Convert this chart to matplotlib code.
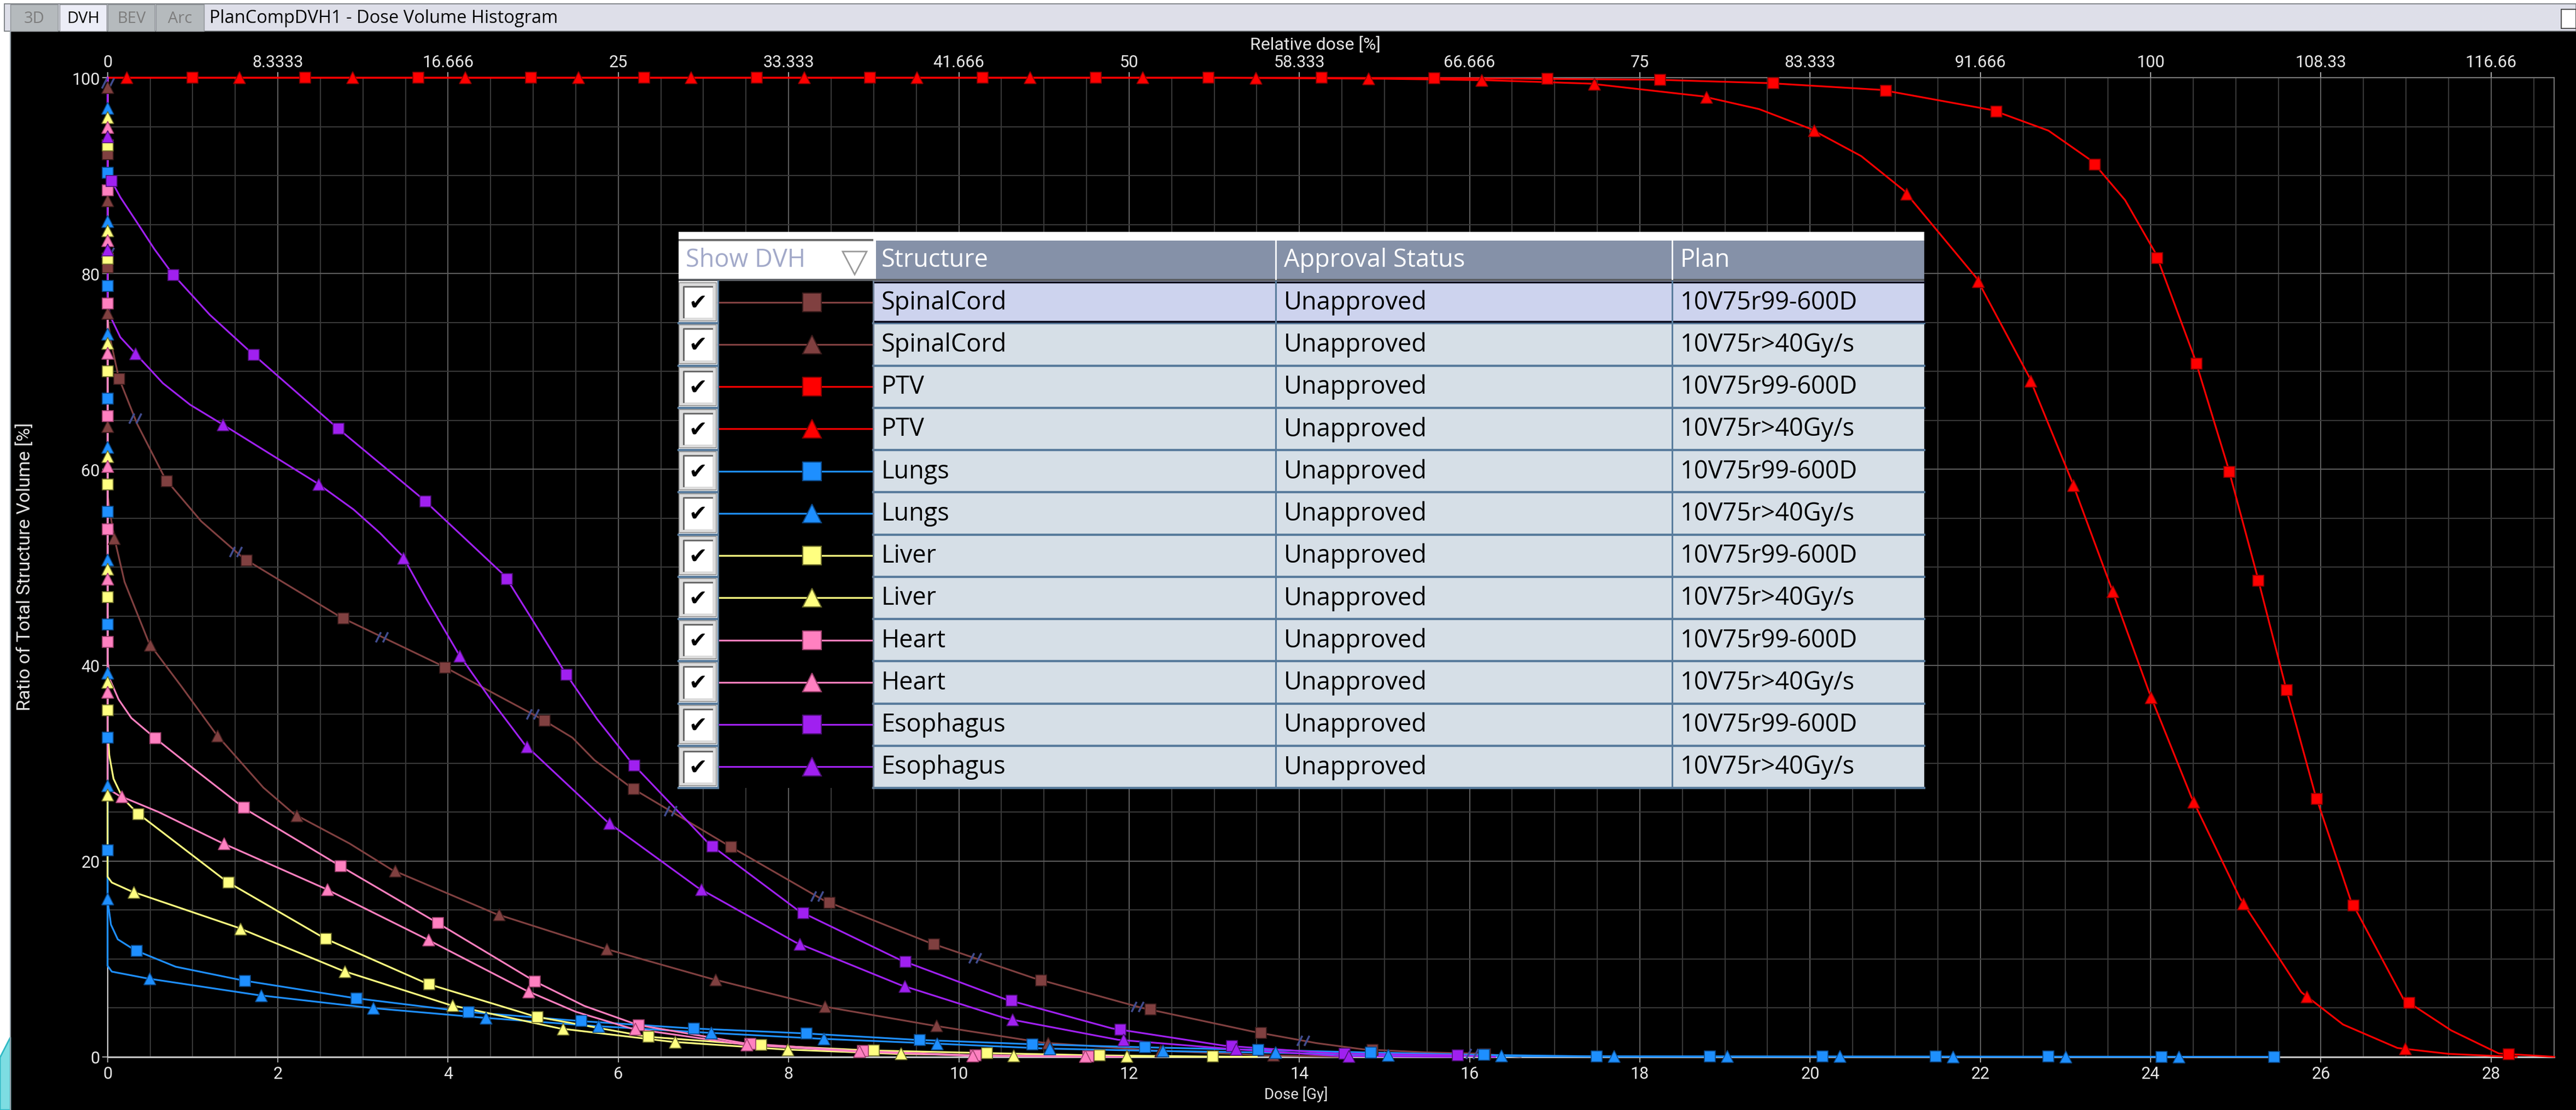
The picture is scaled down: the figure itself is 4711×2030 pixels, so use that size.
import numpy as np
import matplotlib
matplotlib.use("Agg")
import matplotlib.pyplot as plt
from matplotlib.path import Path
from matplotlib.patches import Rectangle, Polygon
from matplotlib import font_manager


def pick_font(*names):
    for n in names:
        try:
            font_manager.findfont(font_manager.FontProperties(family=n), fallback_to_default=False)
            return n
        except Exception:
            pass
    return "DejaVu Sans"


UI_FONT = pick_font("Open Sans", "Noto Sans", "DejaVu Sans")
AXIS_FONT = pick_font("Liberation Sans Narrow", "Roboto", "Open Sans")
plt.rcParams["font.family"] = [AXIS_FONT, "DejaVu Sans"]

# ---------------------------------------------------------------- data
structures = ["SpinalCord", "SpinalCord", "PTV", "PTV", "Lungs", "Lungs",
              "Liver", "Liver", "Heart", "Heart", "Esophagus", "Esophagus"]
plans = ["10V75r99-600D", "10V75r>40Gy/s"] * 6
approval = ["Unapproved"] * 12

prescription_gy = 24.0
dose_ticks = list(range(0, 29, 2))
volume_ticks = [0, 20, 40, 60, 80, 100]
relative_tick_labels = ["0", "8.3333", "16.666", "25", "33.333", "41.666", "50", "58.333",
                        "66.666", "75", "83.333", "91.666", "100", "108.33", "116.66"]

# cumulative DVH curves: dose [Gy] / volume [%]
spinal_r99_dose = [0, 0, 0.04, 0.13, 0.35, 0.68, 1.1, 1.6, 2.74, 3.94, 5.1, 5.46, 5.72, 6.15, 7.27,
                   8.41, 9.64, 10.88, 12.15, 13.44, 14.2, 14.75, 15.5, 16.07, 16.6]
spinal_r99_vol = [100, 75.5, 73.0, 69.4, 64.6, 59.0, 54.7, 50.9, 44.9, 39.9, 34.5, 32.6, 30.3, 27.5, 21.7,
                  16.0, 11.7, 8.04, 5.0, 2.6, 1.4, 0.76, 0.45, 0.33, 0.0]

spinal_r40_dose = [0, 0, 0.03, 0.08, 0.2, 0.49, 0.87, 1.28, 1.83, 2.19, 2.84, 3.34, 4.56, 5.82, 7.08,
                   8.37, 9.66, 10.98, 12.28, 13.6, 14.5]
spinal_r40_vol = [100, 57.5, 55.5, 53.0, 48.5, 42.2, 37.8, 32.9, 27.5, 24.8, 21.8, 19.1, 14.6, 11.1, 8.0,
                  5.2, 3.25, 1.45, 0.65, 0.15, 0.0]

ptv_r99_dose = [0, 14.0, 16.0, 18.19, 19.52, 20.84, 22.14, 22.8, 23.31, 23.7, 24.06, 24.52, 24.91, 25.25,
                25.58, 25.93, 26.35, 26.97, 27.53, 28.09, 28.74]
ptv_r99_vol = [100, 100, 99.95, 99.8, 99.45, 98.76, 96.7, 94.6, 91.5, 87.5, 82.05, 71.3, 60.2, 49.2,
               38.0, 26.9, 16.0, 5.9, 2.7, 0.34, 0.0]

ptv_r40_dose = [0, 13.0, 15.0, 16.2, 17.42, 18.74, 19.4, 20.0, 20.6, 21.1, 21.95, 22.57, 23.07, 23.53,
                23.98, 24.48, 25.05, 25.77, 26.26, 26.9, 27.5, 28.2, 28.3]
ptv_r40_vol = [100, 100, 99.9, 99.75, 99.4, 98.1, 96.8, 94.8, 92.0, 88.5, 79.6, 69.5, 58.9, 48.1,
               37.3, 26.5, 16.2, 6.6, 3.3, 0.9, 0.3, 0.02, 0.0]

lungs_r99_dose = [0, 0, 0.04, 0.12, 0.32, 0.8, 1.59, 2.9, 4.21, 5.54, 6.86, 8.17, 9.48, 10.81, 12.13,
                  13.45, 14.77, 16.1, 17.4, 25.49]
lungs_r99_vol = [100, 16.0, 13.5, 12.0, 10.9, 9.2, 7.8, 6.0, 4.6, 3.66, 2.9, 2.4, 1.74, 1.3, 0.98,
                 0.72, 0.45, 0.2, 0.05, 0.0]

lungs_r40_dose = [0, 0, 0.05, 0.47, 1.77, 3.08, 4.4, 5.72, 7.05, 8.36, 9.67, 11.0, 12.3, 13.63, 14.95,
                  16.28, 18.0, 24.4]
lungs_r40_vol = [100, 9.3, 8.7, 8.0, 6.3, 5.0, 4.0, 3.15, 2.46, 1.85, 1.37, 0.85, 0.6, 0.43, 0.17,
                 0.07, 0.02, 0.0]

liver_r99_dose = [0, 0, 0.02, 0.07, 0.18, 0.35, 0.8, 1.40, 2.55, 3.76, 5.03, 6.34, 7.65, 8.95, 10.27,
                  11.6, 12.9, 13.5]
liver_r99_vol = [100, 33.5, 30.8, 28.4, 26.4, 24.9, 21.9, 17.9, 12.1, 7.45, 4.1, 2.05, 1.2, 0.65, 0.39,
                 0.15, 0.03, 0.0]

liver_r40_dose = [0, 0, 0.05, 0.28, 1.53, 2.76, 4.02, 5.31, 6.62, 7.95, 9.26, 10.6, 11.9, 13.2]
liver_r40_vol = [100, 18.4, 17.8, 16.9, 13.2, 8.8, 5.3, 2.9, 1.54, 0.75, 0.3, 0.1, 0.03, 0.0]

heart_r99_dose = [0, 0, 0.03, 0.13, 0.28, 0.58, 1.0, 1.62, 2.75, 3.89, 5.02, 5.6, 6.23, 7.49, 8.78,
                  10.1, 11.4, 12.0]
heart_r99_vol = [100, 40.5, 38.5, 36.5, 34.6, 32.4, 29.5, 25.3, 19.4, 13.6, 7.7, 5.2, 3.25, 1.37, 0.6,
                 0.17, 0.05, 0.0]

heart_r40_dose = [0, 0, 0.13, 0.6, 1.33, 2.55, 3.73, 4.91, 5.5, 6.15, 7.47, 8.78, 10.1, 11.42, 12.0]
heart_r40_vol = [100, 27.4, 26.7, 25.0, 21.9, 17.2, 12.1, 6.8, 4.6, 2.9, 1.26, 0.54, 0.12, 0.02, 0.0]

eso_r99_dose = [0, 0, 0.05, 0.15, 0.34, 0.55, 0.76, 1.2, 1.69, 2.69, 3.7, 4.67, 5.0, 5.37, 5.75, 6.15,
                7.06, 8.12, 9.31, 10.55, 11.8, 13.12, 14.44, 15.76, 16.3]
eso_r99_vol = [100, 90.5, 89.4, 87.8, 85.3, 82.5, 80.0, 75.8, 71.9, 64.3, 57.0, 49.1, 44.5, 39.3, 34.5,
               30.1, 21.8, 14.9, 9.9, 5.87, 2.9, 1.13, 0.33, 0.17, 0.0]

eso_r40_dose = [0, 0, 0.05, 0.15, 0.32, 0.65, 0.97, 1.35, 2.46, 2.89, 3.2, 3.47, 3.75, 4.12, 4.5, 4.9,
                5.87, 6.93, 8.08, 9.31, 10.56, 11.87, 13.15, 14.48, 15.8, 15.9]
eso_r40_vol = [100, 76.8, 75.3, 73.5, 71.9, 68.8, 66.6, 64.6, 58.6, 55.9, 53.5, 51.1, 46.7, 41.2, 36.5,
               31.9, 24.0, 17.3, 11.7, 7.35, 3.9, 1.74, 0.83, 0.07, 0.0, 0.0]

curves = [
    (spinal_r99_dose, spinal_r99_vol), (spinal_r40_dose, spinal_r40_vol),
    (ptv_r99_dose, ptv_r99_vol), (ptv_r40_dose, ptv_r40_vol),
    (lungs_r99_dose, lungs_r99_vol), (lungs_r40_dose, lungs_r40_vol),
    (liver_r99_dose, liver_r99_vol), (liver_r40_dose, liver_r40_vol),
    (heart_r99_dose, heart_r99_vol), (heart_r40_dose, heart_r40_vol),
    (eso_r99_dose, eso_r99_vol), (eso_r40_dose, eso_r40_vol),
]

# ---------------------------------------------------------------- styles
structure_colors = {
    "SpinalCord": ("#804040", "#3c1c1c"),
    "PTV": ("#ff0000", "#8a0000"),
    "Lungs": ("#1e8fff", "#0b4a8c"),
    "Liver": ("#ffff80", "#6e6e2a"),
    "Heart": ("#ff80c0", "#a0406e"),
    "Esophagus": ("#a020f0", "#4e1078"),
}
plan_markers = {"10V75r99-600D": "s", "10V75r>40Gy/s": "^"}
# start offset (pixels of path length) of the first marker along each curve
marker_phase = [140, 18, 155, 35, 174, 56, 124, 73, 206, 91, 190, 108]
MARKER_STEP = 206.5

W, H, DPI = 4711, 2031, 100
fig = plt.figure(figsize=(W / DPI, H / DPI), dpi=DPI, facecolor="white")

# window chrome drawn in pixel coordinates
bg = fig.add_axes([0, 0, 1, 1], zorder=0)
bg.set_xlim(0, W)
bg.set_ylim(H, 0)
bg.axis("off")
bg.add_patch(Rectangle((19, 58), W - 19, H - 58, facecolor="black", edgecolor="none"))
bg.plot([19, 19], [58, H], color="#9aa4ad", lw=1.5)
bg.add_patch(Rectangle((8, 8), W - 8, 50, facecolor="#dedfe9", edgecolor="#6f7478", lw=1.2))
tabs = [("3D", 19, 106, "#b5babd", "#7d7d7d"), ("DVH", 109, 195, "#ecedf7", "#000000"),
        ("BEV", 197, 283, "#b5babd", "#7d7d7d"), ("Arc", 285, 373, "#b5babd", "#7d7d7d")]
for label, x0, x1, fc, tc in tabs:
    bg.add_patch(Rectangle((x0, 9), x1 - x0, 49, facecolor=fc, edgecolor="#8c9094", lw=1.0))
    bg.text((x0 + x1) / 2, 34, label, ha="center", va="center", fontsize=21,
            color=tc, family=[UI_FONT, "DejaVu Sans"])
bg.text(383, 34, "PlanCompDVH1 - Dose Volume Histogram", ha="left", va="center",
        fontsize=23.5, color="black", family=[UI_FONT, "DejaVu Sans"])
bg.add_patch(Rectangle((4684, 18), 27, 35, facecolor="white", edgecolor="#333333", lw=1.2))
bg.add_patch(Polygon([(0, 1935), (19, 1898), (19, H), (0, H)], closed=True,
                     facecolor="#7ddde2", edgecolor="#2fb9c4", lw=2))

# axis titles
lab_col = "#e4e4e4"
bg.text(2405, 82, "Relative dose [%]", ha="center", va="center", fontsize=23, color=lab_col)
bg.text(2370, 2002, "Dose [Gy]", ha="center", va="center", fontsize=20, color=lab_col)
bg.text(46, 1036, "Ratio of Total Structure Volume [%]", ha="center", va="center",
        rotation=90, fontsize=24.5, color=lab_col)

# ---------------------------------------------------------------- main plot
X0, X1 = 196.7, 4671.0
Y0, Y1 = 1933.7, 143.2
ax = fig.add_axes([X0 / W, 1 - Y0 / H, (X1 - X0) / W, (Y0 - Y1) / H], zorder=1)
ax.set_facecolor("black")
ax.set_xlim(0, 28.74)
ax.set_ylim(0, 100)

ax.set_xticks(dose_ticks)
ax.set_xticklabels([str(t) for t in dose_ticks])
ax.set_yticks(volume_ticks)
ax.set_xticks(np.arange(0, 28.75, 0.5), minor=True)
ax.set_yticks(np.arange(0, 101, 5), minor=True)
ax.grid(which="minor", color="#383838", lw=1.5)
ax.grid(which="major", color="#5c5c5c", lw=1.5)
ax.set_axisbelow(True)
ax.tick_params(which="minor", length=0)
ax.tick_params(which="major", length=7, width=1.2, color="#c8c8c8", labelcolor="#e6e6e6",
               labelsize=22)
ax.tick_params(axis="x", pad=5)
ax.tick_params(axis="y", pad=3)
for side, col, lw in [("left", "#d0d0d0", 1.6), ("bottom", "#c8c8c8", 2.2),
                      ("top", "#8c8c8c", 1.2), ("right", "#8c8c8c", 1.2)]:
    ax.spines[side].set_color(col)
    ax.spines[side].set_linewidth(lw)

top = ax.secondary_xaxis("top", functions=(lambda d: d * 100 / prescription_gy,
                                           lambda p: p * prescription_gy / 100))
top.set_xticks([d * 100 / prescription_gy for d in dose_ticks], relative_tick_labels)
top.tick_params(length=7, width=1.2, color="#c8c8c8", labelcolor="#e6e6e6", labelsize=22, pad=3)
top.spines["top"].set_visible(False)

fig.canvas.draw()


def along_path(x, y, step, phase):
    """Points spaced evenly along the drawn curve (in screen pixels)."""
    pts = ax.transData.transform(np.column_stack([x, y]))
    seg = np.hypot(*np.diff(pts, axis=0).T)
    s = np.concatenate([[0.0], np.cumsum(seg)])
    t = np.arange(phase, s[-1], step)
    px = np.interp(t, s, pts[:, 0])
    py = np.interp(t, s, pts[:, 1])
    return ax.transData.inverted().transform(np.column_stack([px, py]))


for (d, v), name in zip(curves, structures):
    ax.plot(d, v, color=structure_colors[name][0], lw=2.3, zorder=3, clip_on=False,
            solid_joinstyle="round")

for i, ((d, v), name, plan) in enumerate(zip(curves, structures, plans)):
    fc, ec = structure_colors[name]
    m = plan_markers[plan]
    p = along_path(d, v, MARKER_STEP, marker_phase[i])
    ax.plot(p[:, 0], p[:, 1], ls="none", marker=m, ms=15 if m == "s" else 16,
            mfc=fc, mec=ec, mew=1.2, zorder=4, clip_on=False)

# objective ticks along the SpinalCord curve
slash = Path([(-0.6, -0.5), (-0.1, 0.5), (0.1, -0.5), (0.6, 0.5)],
             [Path.MOVETO, Path.LINETO, Path.MOVETO, Path.LINETO])
p = along_path(spinal_r99_dose, spinal_r99_vol, 310, 10)
ax.plot(p[:, 0], p[:, 1], ls="none", marker=slash, ms=16, mec="#414c8e", mew=2.6,
        zorder=3.5, clip_on=False)

# ---------------------------------------------------------------- structure table
tb = fig.add_axes([0, 0, 1, 1], zorder=5)
tb.set_xlim(0, W)
tb.set_ylim(H, 0)
tb.axis("off")
tb.patch.set_alpha(0)

TL, TR = 1241, 3519
C_CHK, C_STR, C_APP, C_PLN = 1313, 1597, 2333, 3058
HEAD_T, HEAD_B = 438, 512
BODY_T, BODY_B = 515, 1442
ROW_H = (BODY_B - BODY_T) / 12
SEP = "#587b9c"
ui = dict(family=[UI_FONT, "DejaVu Sans"], fontsize=32.5)

tb.add_patch(Rectangle((TL, 425), TR - TL, BODY_B - 425, facecolor="white", edgecolor="none"))
tb.add_patch(Rectangle((TL, HEAD_T), C_STR - TL, 4, facecolor="#6e6e6e", edgecolor="none"))
tb.add_patch(Rectangle((C_STR + 5, 441), TR - C_STR - 5, 70, facecolor="#8591a8", edgecolor="none"))
tb.add_patch(Rectangle((TL, 511), TR - TL, 4, facecolor="#5a5d62", edgecolor="none"))
for cx in (C_APP, C_PLN):
    tb.plot([cx, cx], [437, 511], color="white", lw=2)
tb.text(1254, 476, "Show DVH", ha="left", va="center", color="#a2a9c9", **ui)
tb.add_patch(Polygon([(1541, 461), (1585, 461), (1563, 503)], closed=True, facecolor="none",
                     edgecolor="#9a9a9a", lw=2))
for x, label in [(C_STR + 15, "Structure"), (C_APP + 15, "Approval Status"), (C_PLN + 15, "Plan")]:
    tb.text(x, 476, label, ha="left", va="center", color="white", **ui)

for i in range(12):
    t = BODY_T + i * ROW_H
    b = t + ROW_H
    yc = (t + b) / 2
    name, plan = structures[i], plans[i]
    fc, ec = structure_colors[name]
    row_fc = "#cdd3ee" if i == 0 else "#d6dfe7"
    tb.add_patch(Rectangle((C_STR, t), TR - C_STR, ROW_H, facecolor=row_fc, edgecolor="none"))
    tb.add_patch(Rectangle((C_CHK, t), C_STR - C_CHK, ROW_H, facecolor="black", edgecolor="none"))
    # check box
    tb.add_patch(Rectangle((TL + 1, t + 3), 68, ROW_H - 7, facecolor="#dcdcdc", edgecolor="#8c8c8c", lw=1.2))
    tb.add_patch(Rectangle((TL + 8, t + 9), 54, ROW_H - 19, facecolor="white", edgecolor="none"))
    tb.plot([TL + 9, TL + 9, TL + 61], [b - 11, t + 10, t + 10], color="#6a6a6a", lw=2.2)
    tb.text(TL + 35, yc + 1, "\u2714", ha="center", va="center", color="black", fontsize=29,
            family="DejaVu Sans")
    # legend sample
    tb.plot([C_CHK, C_STR], [yc, yc], color=fc, lw=2.3)
    tb.plot([1485], [yc], ls="none", marker=plan_markers[plan], ms=24, mfc=fc, mec=ec, mew=1.5)
    # row separators
    tb.plot([TL, C_CHK], [b, b], color=SEP, lw=3)
    tb.plot([C_STR, TR], [b, b], color=SEP, lw=3)
    if i == 0:
        tb.plot([C_STR, TR], [t + 2, t + 2], color="#05051a", lw=2.5)
        tb.plot([C_STR, TR], [b - 3, b - 3], color="#05051a", lw=2.5)
    tb.text(C_STR + 15, yc, name, ha="left", va="center", color="black", **ui)
    tb.text(C_APP + 15, yc, approval[i], ha="left", va="center", color="black", **ui)
    tb.text(C_PLN + 15, yc, plan, ha="left", va="center", color="black", **ui)

for cx, col in [(C_CHK, SEP), (C_STR, "#6b7c92"), (C_APP, SEP), (C_PLN, SEP)]:
    tb.plot([cx, cx], [BODY_T, BODY_B], color=col, lw=2.2)

fig.savefig("out.png", dpi=DPI, facecolor="white")
